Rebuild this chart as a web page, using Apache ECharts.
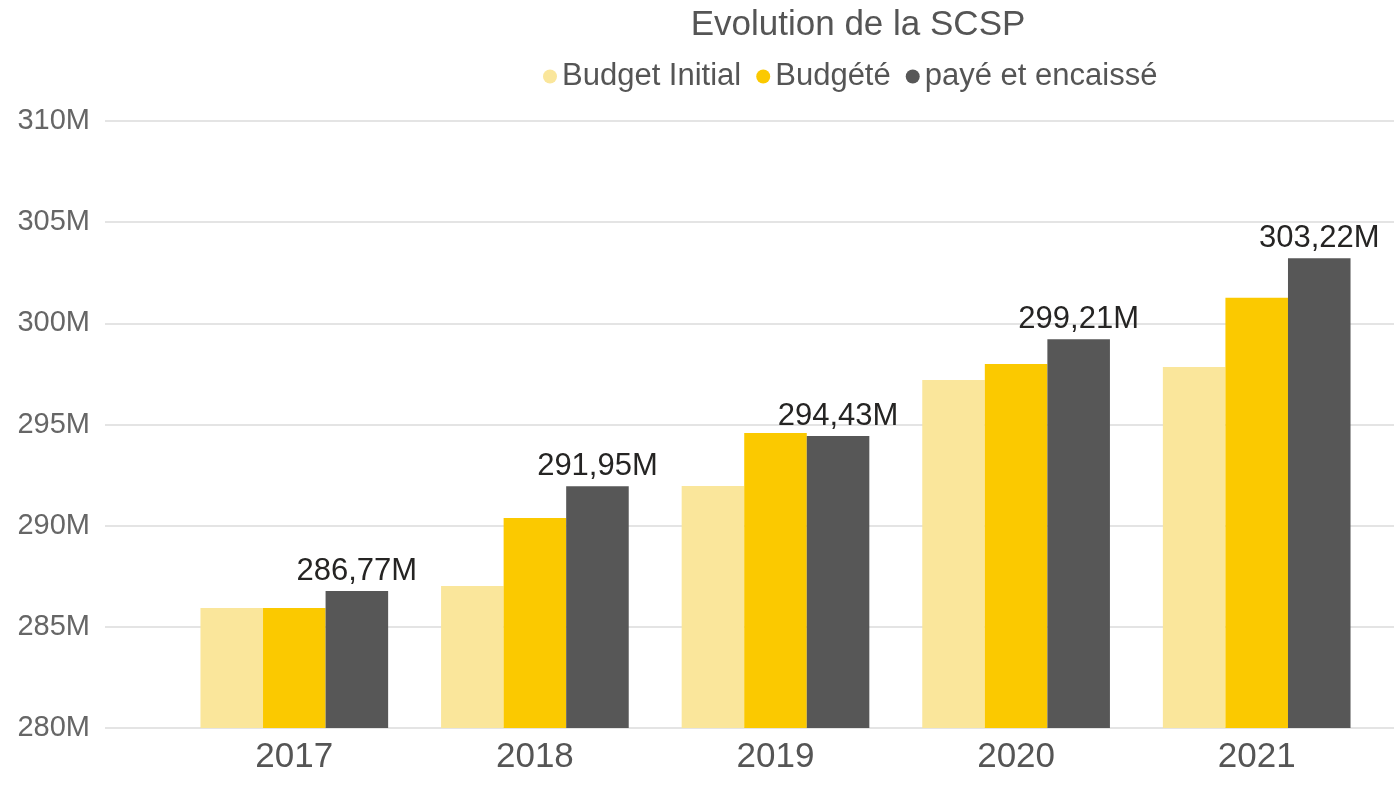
<!DOCTYPE html>
<html>
<head>
<meta charset="utf-8">
<script src="https://cdn.jsdelivr.net/npm/echarts@6/dist/echarts.min.js"></script>
<style>
  html, body { margin: 0; padding: 0; background: #fff; }
  #chart { width: 1394px; height: 790px; }
</style>
</head>
<body>
<div id="chart"></div>
<script>
// valeurs en millions
var years = ["2017", "2018", "2019", "2020", "2021"];
var budgetInitial = [285.93, 287.02, 291.96, 297.2, 297.84];
var budgete = [285.93, 290.38, 294.58, 297.99, 301.26];
var payeEncaisse = [286.77, 291.95, 294.43, 299.21, 303.22];

var yMin = 280, yMax = 310, yStep = 5;

var font = "Liberation Sans, Arial, sans-serif";

var chart = echarts.init(document.getElementById("chart"));

function fmtM(v) {
  return v.toFixed(2).replace(".", ",") + "M";
}

chart.setOption({
  animation: false,
  textStyle: { fontFamily: font },
  color: ["#FAE69B", "#FBC900", "#575757"],
  title: {
    text: "Evolution de la SCSP",
    left: 853,
    textAlign: "center",
    top: 3,
    textStyle: { fontSize: 35, fontWeight: "normal", color: "#555", fontFamily: font },
  },
  legend: {
    left: 538,
    top: 56,
    icon: "circle",
    itemWidth: 14,
    itemHeight: 14,
    itemGap: 15,
    textStyle: { fontSize: 31, color: "#555", fontFamily: font },
    data: ["Budget Initial", "Budgété", "payé et encaissé"],
  },
  // grille 0 : seulement l'axe Y et les lignes de fond
  // grille 1 : les barres
  grid: [
    { left: 105, right: 0, top: 121, bottom: 62 },
    { left: 174, right: 17, top: 121, bottom: 62 },
  ],
  xAxis: [
    { gridIndex: 0, type: "value", show: false, min: 0, max: 1 },
    {
      gridIndex: 1,
      type: "category",
      data: years,
      axisLine: { show: false },
      axisTick: { show: false },
      axisLabel: { fontSize: 35, color: "#555", margin: 12, fontFamily: font },
    },
  ],
  yAxis: [
    {
      gridIndex: 0,
      type: "value",
      min: yMin,
      max: yMax,
      interval: yStep,
      axisLine: { show: false },
      axisTick: { show: false },
      axisLabel: {
        fontSize: 29,
        color: "#666",
        margin: 15,
        fontFamily: font,
        formatter: function (v) { return v + "M"; },
      },
      splitLine: { lineStyle: { color: "#e4e4e4", width: 2 } },
    },
    {
      gridIndex: 1,
      type: "value",
      min: yMin,
      max: yMax,
      interval: yStep,
      show: false,
      splitLine: { show: false },
    },
  ],
  series: [
    {
      name: "Budget Initial",
      type: "bar",
      xAxisIndex: 1,
      yAxisIndex: 1,
      data: budgetInitial,
      barGap: "0%",
      barCategoryGap: "22%",
    },
    {
      name: "Budgété",
      type: "bar",
      xAxisIndex: 1,
      yAxisIndex: 1,
      data: budgete,
      barGap: "0%",
      barCategoryGap: "22%",
    },
    {
      name: "payé et encaissé",
      type: "bar",
      xAxisIndex: 1,
      yAxisIndex: 1,
      data: payeEncaisse,
      barGap: "0%",
      barCategoryGap: "22%",
      label: {
        show: true,
        position: "top",
        distance: 4,
        fontSize: 31,
        color: "#252423",
        fontFamily: font,
        formatter: function (p) { return fmtM(p.value); },
      },
    },
  ],
});
</script>
</body>
</html>
